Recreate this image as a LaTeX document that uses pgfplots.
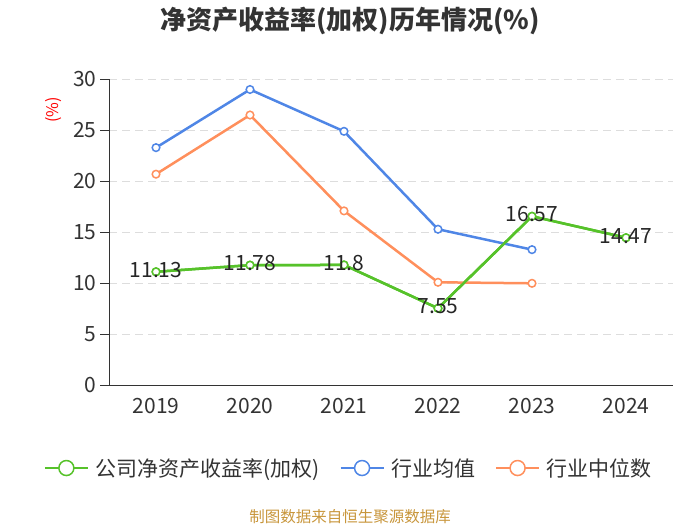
\documentclass[border=0pt]{standalone}
\usepackage{pgfplots}
\pgfplotsset{compat=1.18}
\usepackage{fontspec}
\setmainfont{Noto Sans CJK SC}
\definecolor{cgreen}{HTML}{56C22A}
\definecolor{cblue}{HTML}{4F86E6}
\definecolor{corange}{HTML}{FF8F5C}
\definecolor{ctext}{HTML}{333333}
\definecolor{cgrid}{HTML}{DDDDDD}
\definecolor{csrc}{HTML}{C8963C}
\begin{document}
\begin{tikzpicture}[x=1pt,y=1pt]
\path[use as bounding box] (0,0) rectangle (700,-525);
\node[font=\fontsize{26pt}{30pt}\selectfont\bfseries, text=ctext] at (350,-21) {净资产收益率(加权)历年情况(\%)};
\node[font=\fontsize{15.5pt}{18pt}\selectfont, text=csrc] at (350,-517) {制图数据来自恒生聚源数据库};
\begin{axis}[
  at={(109pt,-385.3pt)}, anchor=south west,
  scale only axis, width=564pt, height=306pt,
  xmin=-0.5, xmax=5.5, ymin=0, ymax=30,
  axis x line*=bottom, axis y line*=left,
  axis line style={ctext, line width=1pt},
  xtick={0,1,2,3,4,5},
  xticklabels={2019,2020,2021,2022,2023,2024},
  major x tick style={draw=none},
  extra x ticks={-0.5,0.5,1.5,2.5,3.5,4.5,5.5},
  extra x tick labels={},
  extra x tick style={major tick style={draw=ctext, line width=1pt}, grid=none},
  ytick={0,5,10,15,20,25,30},
  ymajorgrids,
  grid style={cgrid, line width=1pt, dash pattern=on 8pt off 5pt},
  tick align=outside,
  major tick length=9pt,
  major y tick style={draw=ctext, line width=1pt},
  tick label style={font=\fontsize{21pt}{24pt}\selectfont, text=ctext},
  /pgf/number format/assume math mode=true,
  ylabel={(\%)},
  ylabel style={at={(axis description cs:-0.0975,0.8997)}, anchor=center, text=red, font=\fontsize{16pt}{18pt}\selectfont},
  legend style={at={(axis description cs:0.4255,-0.2703)}, anchor=center, draw=none, fill=none,
    legend columns=3, font=\fontsize{21pt}{24pt}\selectfont, text=ctext,
    /tikz/every odd column/.append style={column sep=5pt},
    /tikz/every even column/.append style={column sep=18pt}},
  legend cell align=left,
]
\addplot[cgreen, line width=2.5pt, mark=*, mark size=3.8pt, mark options={fill=white, line width=1.5pt},
  legend image code/.code={\draw[line width=1.5pt] (0pt,0pt) -- (43pt,0pt); \draw[line width=1.5pt, fill=white] (21.5pt,0pt) circle (7.5pt);}]
  coordinates {(0,11.13) (1,11.78) (2,11.8) (3,7.55) (4,16.57) (5,14.47)};
\addlegendentry{公司净资产收益率(加权)}
\addplot[cblue, line width=2.5pt, mark=*, mark size=3.8pt, mark options={fill=white, line width=1.5pt},
  legend image code/.code={\draw[line width=1.5pt] (0pt,0pt) -- (43pt,0pt); \draw[line width=1.5pt, fill=white] (21.5pt,0pt) circle (7.5pt);}]
  coordinates {(0,23.3) (1,29.0) (2,24.9) (3,15.3) (4,13.3)};
\addlegendentry{行业均值}
\addplot[corange, line width=2.5pt, mark=*, mark size=3.8pt, mark options={fill=white, line width=1.5pt},
  legend image code/.code={\draw[line width=1.5pt] (0pt,0pt) -- (43pt,0pt); \draw[line width=1.5pt, fill=white] (21.5pt,0pt) circle (7.5pt);}]
  coordinates {(0,20.7) (1,26.5) (2,17.1) (3,10.1) (4,10.0)};
\addlegendentry{行业中位数}
\addplot[forget plot, cgreen, line width=2.5pt, mark=*, mark size=3.8pt, mark options={fill=white, line width=1.5pt},
  point meta=explicit symbolic, nodes near coords,
  every node near coord/.append style={anchor=center, yshift=2pt, text=black!85, font=\fontsize{21pt}{24pt}\selectfont}]
  coordinates {(0,11.13) [11.13] (1,11.78) [11.78] (2,11.8) [11.8] (3,7.55) [7.55] (4,16.57) [16.57] (5,14.47) [14.47]};
\end{axis}
\end{tikzpicture}
\end{document}
